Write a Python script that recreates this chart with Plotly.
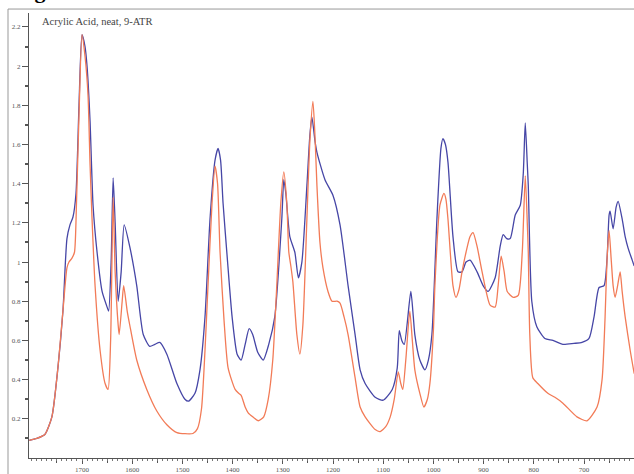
import plotly.graph_objects as go

# ---- data ----
BLUE_WN = [1805, 1790, 1774, 1760, 1748, 1738, 1730, 1724, 1718, 1712, 1706, 1700, 1694, 1690, 1684,
           1678, 1670, 1660, 1650, 1647, 1642, 1638, 1634, 1628, 1622, 1616, 1605, 1591, 1578, 1565,
           1555, 1545, 1531, 1511, 1495, 1488, 1475, 1465, 1455, 1445, 1435, 1429, 1424, 1419, 1410,
           1401, 1391, 1383, 1375, 1367, 1360, 1350, 1339, 1328, 1316, 1302, 1298, 1294, 1286, 1276,
           1269, 1262, 1252, 1246, 1242, 1236, 1232, 1216, 1200, 1186, 1170, 1156, 1146, 1136, 1116,
           1100, 1082, 1072, 1068, 1063, 1058, 1045, 1040, 1037, 1027, 1017, 1010, 1003, 993, 985,
           981, 976, 971, 961, 951, 943, 935, 927, 913, 901, 891, 877, 867, 861, 854,
           847, 837, 827, 821, 817, 813, 811, 804, 794, 778, 762, 742, 720, 704, 690,
           680, 670, 660, 654, 650, 648, 642, 636, 632, 624, 618, 612, 604, 600]
BLUE_ABS = [0.09, 0.10, 0.12, 0.21, 0.46, 0.75, 1.12, 1.19, 1.23, 1.35, 1.80, 2.16, 2.10, 2.00, 1.72,
            1.29, 1.05, 0.85, 0.77, 0.75, 1.00, 1.43, 1.20, 0.80, 0.95, 1.19, 1.08, 0.88, 0.63, 0.57,
            0.58, 0.59, 0.53, 0.38, 0.30, 0.29, 0.33, 0.45, 0.72, 1.22, 1.52, 1.58, 1.52, 1.30, 1.00,
            0.72, 0.53, 0.50, 0.58, 0.66, 0.63, 0.54, 0.50, 0.58, 0.72, 1.22, 1.42, 1.35, 1.13, 1.05,
            0.92, 1.00, 1.39, 1.65, 1.74, 1.62, 1.56, 1.42, 1.34, 1.19, 0.88, 0.63, 0.45, 0.38, 0.31,
            0.295, 0.35, 0.46, 0.65, 0.60, 0.58, 0.85, 0.72, 0.63, 0.50, 0.45, 0.50, 0.63, 1.22, 1.58,
            1.63, 1.60, 1.51, 1.13, 0.95, 0.95, 1.00, 1.01, 0.95, 0.88, 0.85, 0.92, 1.08, 1.14, 1.12,
            1.12, 1.24, 1.29, 1.45, 1.71, 1.50, 1.39, 0.80, 0.67, 0.61, 0.60, 0.58, 0.585, 0.59, 0.61,
            0.72, 0.87, 0.88, 1.02, 1.24, 1.26, 1.17, 1.28, 1.31, 1.22, 1.13, 1.07, 1.01, 0.98]

ORANGE_WN = [1805, 1790, 1774, 1760, 1748, 1738, 1730, 1726, 1720, 1715, 1711, 1706, 1700, 1694, 1688,
             1684, 1680, 1674, 1664, 1654, 1648, 1643, 1638, 1634, 1628, 1626, 1620, 1617, 1610, 1605,
             1591, 1571, 1551, 1531, 1511, 1479, 1470, 1462, 1455, 1449, 1441, 1435, 1430, 1425, 1417,
             1409, 1395, 1388, 1383, 1375, 1369, 1360, 1349, 1338, 1329, 1320, 1312, 1304, 1298, 1292,
             1288, 1284, 1280, 1272, 1266, 1260, 1252, 1246, 1240, 1236, 1232, 1226, 1220, 1210, 1202,
             1192, 1186, 1178, 1170, 1156, 1146, 1136, 1116, 1106, 1095, 1086, 1078, 1070, 1065, 1061,
             1055, 1047, 1042, 1037, 1027, 1019, 1012, 1007, 1000, 997, 987, 979, 975, 971, 961,
             955, 949, 943, 935, 927, 921, 913, 903, 887, 877, 871, 865, 859, 853, 841,
             831, 823, 817, 813, 811, 808, 802, 792, 772, 758, 742, 714, 694, 674, 664,
             658, 654, 650, 646, 642, 638, 633, 628, 624, 618, 608, 600]
ORANGE_ABS = [0.09, 0.10, 0.12, 0.21, 0.46, 0.75, 0.97, 1.00, 1.02, 1.05, 1.30, 1.75, 2.16, 2.05, 1.85,
              1.50, 1.22, 0.88, 0.55, 0.38, 0.35, 0.60, 1.33, 0.95, 0.68, 0.63, 0.80, 0.88, 0.75, 0.68,
              0.50, 0.35, 0.24, 0.17, 0.13, 0.125, 0.15, 0.25, 0.55, 0.88, 1.30, 1.49, 1.40, 1.05, 0.70,
              0.46, 0.35, 0.33, 0.32, 0.26, 0.23, 0.21, 0.19, 0.21, 0.30, 0.50, 0.88, 1.30, 1.46, 1.30,
              1.05, 0.98, 0.90, 0.63, 0.53, 0.68, 1.22, 1.62, 1.82, 1.65, 1.39, 1.10, 0.97, 0.85, 0.80,
              0.80, 0.79, 0.72, 0.63, 0.41, 0.26, 0.21, 0.145, 0.135, 0.16, 0.21, 0.30, 0.44, 0.38, 0.35,
              0.50, 0.75, 0.60, 0.45, 0.33, 0.26, 0.30, 0.38, 0.65, 0.88, 1.29, 1.35, 1.32, 1.22, 0.88,
              0.82, 0.86, 0.95, 1.05, 1.13, 1.15, 1.08, 0.95, 0.78, 0.77, 0.88, 1.03, 0.95, 0.85, 0.82,
              0.83, 1.05, 1.44, 1.20, 1.05, 0.63, 0.41, 0.38, 0.33, 0.31, 0.28, 0.21, 0.19, 0.26, 0.40,
              0.72, 1.02, 1.16, 1.02, 0.88, 0.82, 0.88, 0.95, 0.85, 0.72, 0.55, 0.43]

X_TICKS = [1700, 1600, 1500, 1400, 1300, 1200, 1100, 1000, 900, 800, 700]
X_TICK_LABELS = [str(v) for v in X_TICKS]
X_MID_TICKS = [1750, 1650, 1550, 1450, 1350, 1250, 1150, 1050, 950, 850, 750, 650]
Y_TICKS = [0.2, 0.4, 0.6, 0.8, 1.0, 1.2, 1.4, 1.6, 1.8, 2.0, 2.2]
Y_TICK_LABELS = ["0.2", "0.4", "0.6", "0.8", "1", "1.2", "1.4", "1.6", "1.8", "2", "2.2"]
CHART_TITLE = "Acrylic Acid, neat, 9-ATR"
FIG_CAPTION = "<b>Figure 2</b>"

X_RANGE = [1805.6, 600.4]
Y_RANGE = [0, 2.271]

BLUE = "#4646a6"
ORANGE = "#f27b57"
AXIS_COL = "#555555"
TICK_FONT = dict(family="Liberation Serif, serif", size=7, color="#555555")

fig = go.Figure()
fig.add_trace(go.Scatter(x=BLUE_WN, y=BLUE_ABS, mode="lines",
                         line=dict(color=BLUE, width=1.3, shape="spline", smoothing=0.6),
                         showlegend=False, hoverinfo="skip"))
fig.add_trace(go.Scatter(x=ORANGE_WN, y=ORANGE_ABS, mode="lines",
                         line=dict(color=ORANGE, width=1.3, shape="spline", smoothing=0.6),
                         showlegend=False, hoverinfo="skip"))
# helper empty trace so the overlaid tick axis exists
fig.add_trace(go.Scatter(x=[], y=[], xaxis="x2", showlegend=False, hoverinfo="skip"))

fig.update_layout(
    width=634, height=474,
    margin=dict(l=29, r=0, t=13, b=12),
    paper_bgcolor="white", plot_bgcolor="white",
    showlegend=False,
    xaxis=dict(range=X_RANGE, tickmode="array", tickvals=X_TICKS, ticktext=X_TICK_LABELS,
               ticks="outside", ticklen=5, tickwidth=1, tickcolor=AXIS_COL,
               showline=True, linecolor=AXIS_COL, linewidth=1, showgrid=False, zeroline=False,
               tickfont=TICK_FONT,
               minor=dict(tickmode="array", tickvals=X_MID_TICKS, ticks="outside",
                          ticklen=3.5, tickwidth=1, tickcolor=AXIS_COL, showgrid=False)),
    xaxis2=dict(range=X_RANGE, overlaying="x", anchor="y", side="bottom",
                tickmode="linear", tick0=0, dtick=10, ticks="outside", ticklen=2,
                tickwidth=1, tickcolor="#777777", showticklabels=False,
                showline=False, showgrid=False, zeroline=False),
    yaxis=dict(range=Y_RANGE, tickmode="array", tickvals=Y_TICKS, ticktext=Y_TICK_LABELS,
               ticks="outside", ticklen=6, tickwidth=1, tickcolor=AXIS_COL,
               showline=True, linecolor=AXIS_COL, linewidth=1, showgrid=False, zeroline=False,
               tickfont=TICK_FONT,
               minor=dict(tickmode="linear", tick0=0.1, dtick=0.2, ticks="outside",
                          ticklen=3, tickwidth=2, tickcolor=AXIS_COL, showgrid=False)),
    annotations=[
        dict(text=CHART_TITLE, xref="paper", yref="paper", x=0.018, y=0.98,
             xanchor="left", yanchor="middle", showarrow=False,
             font=dict(family="Liberation Serif, serif", size=10.5, color="#444444")),
        dict(text=FIG_CAPTION, xref="paper", yref="paper", x=-0.027, y=1.018,
             xanchor="left", yanchor="bottom", showarrow=False,
             font=dict(family="Liberation Serif, serif", size=22, color="#000000")),
    ],
    shapes=[
        dict(type="rect", xref="paper", yref="paper", x0=-0.0347, x1=1.05, y0=-0.1, y1=1.0089,
             line=dict(color="#999999", width=1), fillcolor="rgba(0,0,0,0)", layer="above"),
    ],
)

fig.write_html("out.html", config={"displayModeBar": False},
               post_script="document.body.style.margin='0';document.body.style.overflow='hidden';")
